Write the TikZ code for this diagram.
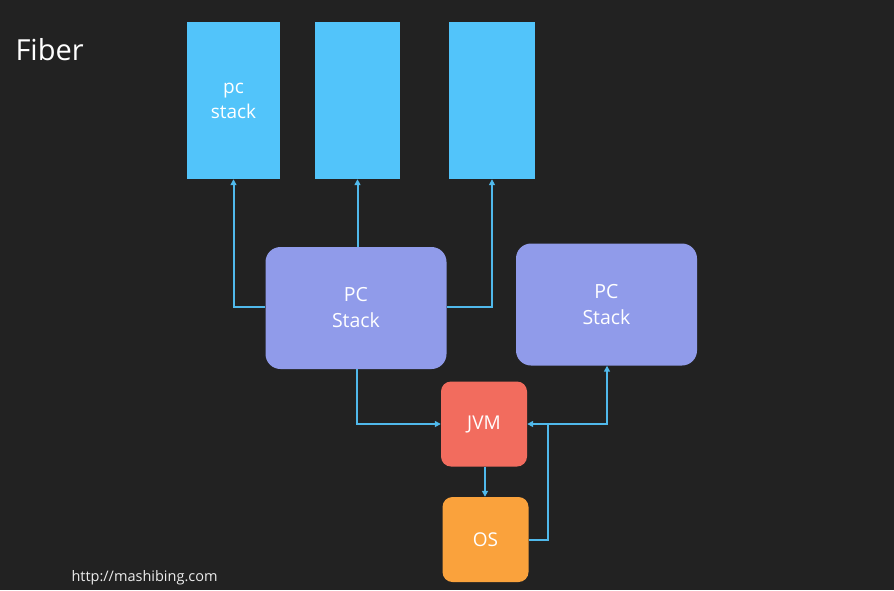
\documentclass[tikz,border=0pt]{standalone}
\usepackage{fontspec}
\setmainfont{Open Sans}
\usetikzlibrary{arrows.meta}
\definecolor{bg}{RGB}{34,34,34}
\definecolor{skyb}{RGB}{82,196,250}
\definecolor{lav}{RGB}{144,155,234}
\definecolor{jvmc}{RGB}{242,108,94}
\definecolor{osc}{RGB}{250,162,60}
\definecolor{arrc}{RGB}{80,185,235}
\begin{document}
\begin{tikzpicture}[x=1pt,y=-1pt,
  stackbox/.style={fill=skyb,draw=none,minimum width=#1,minimum height=157pt,inner sep=0pt,text=white,font=\fontsize{19}{25}\selectfont,align=center},
  pcbox/.style={fill=lav,draw=none,rounded corners=15pt,minimum width=181pt,minimum height=122pt,text=white,font=\fontsize{19.5}{26}\selectfont,align=center},
  smallbox/.style={fill=#1,draw=none,rounded corners=10pt,minimum width=86pt,minimum height=85pt,text=white,font=\fontsize{19}{22}\selectfont},
  conn/.style={draw=arrc,line width=2pt,-{Triangle[length=6pt,width=6pt]}}]
\fill[bg] (0,0) rectangle (894,590);
\useasboundingbox (0,0) rectangle (894,590);
\node[text=white,font=\fontsize{29}{30}\selectfont,anchor=west] (title) at (12,50) {Fiber};
\node[text=white!85!gray,font=\fontsize{14.5}{15}\selectfont,anchor=west] (url) at (68,578) {http://mashibing.com};
\node[stackbox=93pt] (s1) at (233.5,100.5) {pc\\stack};
\node[stackbox=85pt] (s2) at (357.5,100.5) {};
\node[stackbox=86pt] (s3) at (492,100.5) {};
\node[pcbox] (pc1) at (356,308) {PC\\Stack};
\node[pcbox] (pc2) at (606.5,304.5) {PC\\Stack};
\node[smallbox=jvmc] (jvm) at (484,424) {JVM};
\node[smallbox=osc] (os) at (485.5,539.5) {OS};
\coordinate (j) at (548,424);
\draw[conn] (pc1.west |- 0,307) -| (s1.south);
\draw[conn] (pc1.north -| s2.south) -- (s2.south);
\draw[conn] (pc1.east |- 0,307) -| (s3.south);
\draw[conn] (pc1.south -| 357,0) |- (jvm.west);
\draw[conn] (jvm.south -| 485,0) -- (os.north -| 485,0);
\draw[draw=arrc,line width=2pt] (os.east) -| (j);
\draw[conn] (j) -- (jvm.east);
\draw[conn] (j) -| (pc2.south -| 607,0);
\end{tikzpicture}
\end{document}
